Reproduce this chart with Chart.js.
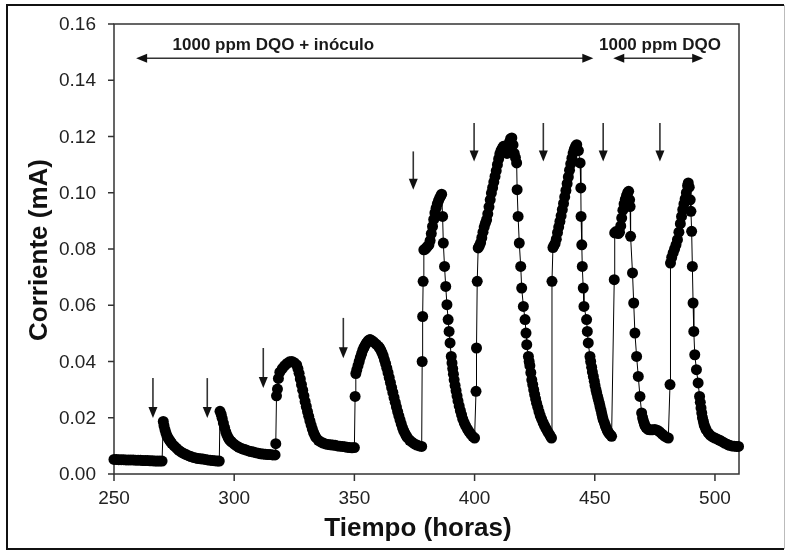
<!DOCTYPE html>
<html>
<head>
<meta charset="utf-8">
<script src="https://cdn.jsdelivr.net/npm/chart.js@4.4.0/dist/chart.umd.min.js"></script>
<style>
  body { margin: 0; background: #fff; }
  #wrap { width: 787px; height: 551px; }
</style>
</head>
<body>
<div id="wrap"><canvas id="grafico" width="787" height="551"></canvas></div>
<script>
// ciclos de corriente: [tiempo (horas), corriente (mA)]
const ciclo1 = [[250,0.0052],[251,0.0052],[252,0.0051],[253,0.0051],[254,0.0051],[255,0.0050],[256,0.0050],[257,0.0050],[258,0.0050],[259,0.0049],[260,0.0049],[261,0.0049],[262,0.0048],[263,0.0048],[264,0.0048],[265,0.0047],[266,0.0047],[267,0.0046],[268,0.0046],[269,0.0046],[270,0.0046]];
const ciclo2 = [[270.5,0.0187],[270.8,0.0172],[271.2,0.0158],[271.6,0.0146],[272,0.0136],[272.5,0.0128],[273,0.0121],[273.5,0.0115],[274,0.0109],[275,0.0100],[276,0.0092],[277,0.0084],[278,0.0078],[279,0.0073],[280,0.0069],[281,0.0065],[282,0.0062],[283,0.0059],[284,0.0057],[285,0.0055],[286,0.0054],[287,0.0053],[288,0.0052],[289,0.0050],[290,0.0049],[291,0.0048],[292,0.0047],[293,0.0046],[293.8,0.0046]];
const ciclo3 = [[294.1,0.0223],[294.6,0.0212],[295,0.0198],[295.5,0.0181],[296,0.0165],[296.5,0.0150],[297,0.0138],[297.5,0.0129],[298,0.0122],[298.5,0.0117],[299,0.0113],[300,0.0106],[301,0.0100],[302,0.0095],[303,0.0091],[304,0.0088],[305,0.0085],[306,0.0082],[307,0.0080],[308,0.0078],[309,0.0076],[310,0.0074],[311,0.0072],[312,0.0071],[313,0.0070],[314,0.0069],[315,0.0069],[316,0.0068],[317,0.0068]];
const ciclo4 = [[317.3,0.0108],[317.6,0.0278],[318,0.0302],[318.4,0.0340],[319,0.0362],[320,0.0375],[321,0.0385],[322,0.0393],[323,0.0399],[324,0.0400],[325,0.0396],[326,0.0388],[326.5,0.0375],[327,0.0358],[327.5,0.0338],[328,0.0318],[328.5,0.0298],[329,0.0278],[329.5,0.0258],[330,0.0240],[330.5,0.0222],[331,0.0205],[331.5,0.0189],[332,0.0174],[332.5,0.0160],[333,0.0148],[333.5,0.0138],[334,0.0130],[335,0.0120],[336,0.0114],[337,0.0110],[338,0.0107],[339,0.0105],[340,0.0104],[341,0.0103],[342,0.0102],[343,0.0100],[344,0.0099],[345,0.0098],[346,0.0097],[347,0.0095],[348,0.0094],[349,0.0093],[350,0.0094]];
const ciclo5 = [[350.3,0.0276],[350.6,0.0357],[351,0.0370],[351.5,0.0385],[352,0.0400],[352.5,0.0415],[353,0.0428],[353.5,0.0440],[354,0.0450],[354.5,0.0458],[355,0.0465],[355.5,0.0471],[356,0.0476],[356.5,0.0478],[357,0.0476],[358,0.0470],[359,0.0462],[360,0.0454],[360.5,0.0448],[361,0.0440],[361.5,0.0431],[362,0.0420],[362.5,0.0406],[363,0.0392],[363.5,0.0376],[364,0.0360],[364.5,0.0343],[365,0.0325],[365.5,0.0307],[366,0.0290],[366.5,0.0272],[367,0.0255],[367.5,0.0238],[368,0.0222],[368.5,0.0207],[369,0.0192],[369.5,0.0178],[370,0.0165],[370.5,0.0154],[371,0.0145],[371.5,0.0137],[372,0.0130],[373,0.0120],[374,0.0113],[375,0.0107],[376,0.0103],[377,0.0100],[378,0.0098]];
const ciclo6 = [[378.2,0.0400],[378.4,0.0560],[378.6,0.0685],[378.9,0.0797],[379.5,0.0800],[380,0.0805],[380.5,0.0810],[381,0.0815],[381.5,0.0830],[382,0.0855],[382.5,0.0880],[383,0.0905],[383.5,0.0928],[384,0.0945],[384.5,0.0960],[385,0.0972],[385.5,0.0982],[386,0.0990],[386.3,0.0995],[386.7,0.0916],[387,0.0821],[387.5,0.0738],[388,0.0667],[388.5,0.0602],[389,0.0549],[389.4,0.0507],[389.8,0.0466],[390.3,0.0418],[390.6,0.0395],[390.9,0.0375],[391.2,0.0355],[391.5,0.0335],[391.9,0.0315],[392.3,0.0296],[392.7,0.0278],[393.1,0.0260],[393.6,0.0242],[394.1,0.0225],[394.6,0.0210],[395.1,0.0195],[395.7,0.0182],[396.3,0.0171],[397,0.0160],[397.7,0.0151],[398.4,0.0142],[399.2,0.0134],[400,0.0128]];
const ciclo7 = [[400.6,0.0294],[400.8,0.0448],[401.1,0.0685],[401.5,0.0804],[402,0.0812],[402.5,0.0822],[403,0.0840],[403.5,0.0860],[404,0.0878],[404.5,0.0892],[405,0.0904],[405.5,0.0925],[406,0.0950],[406.5,0.0975],[407,0.0999],[407.5,0.1018],[408,0.1038],[408.5,0.1058],[409,0.1078],[409.5,0.1100],[410,0.1120],[410.5,0.1138],[411,0.1150],[411.5,0.1158],[412,0.1165],[412.5,0.1155],[413,0.1145],[413.5,0.1140],[414,0.1160],[414.5,0.1180],[415,0.1192],[415.5,0.1195],[416,0.1170],[416.5,0.1140],[417,0.1125],[417.5,0.1106],[417.7,0.1011],[418.1,0.0916],[418.6,0.0821],[419.2,0.0738],[419.6,0.0661],[420.3,0.0596],[421,0.0549],[421.4,0.0501],[421.7,0.0460],[422.4,0.0418],[422.7,0.0400],[423,0.0385],[423.4,0.0360],[423.8,0.0335],[424.2,0.0318],[424.6,0.0300],[425,0.0283],[425.4,0.0267],[425.8,0.0252],[426.3,0.0237],[426.8,0.0222],[427.3,0.0208],[427.9,0.0195],[428.5,0.0183],[429.1,0.0172],[429.7,0.0162],[430.3,0.0152],[431,0.0143],[431.5,0.0135],[432,0.0128]];
const ciclo8 = [[432.2,0.0685],[432.6,0.0805],[433,0.0812],[433.5,0.0820],[434,0.0835],[434.5,0.0858],[435,0.0878],[435.5,0.0898],[436,0.0918],[436.5,0.0940],[437,0.0962],[437.5,0.0985],[438,0.1008],[438.5,0.1032],[439,0.1056],[439.5,0.1080],[440,0.1103],[440.5,0.1123],[441,0.1141],[441.5,0.1155],[442,0.1165],[442.5,0.1171],[443.2,0.1150],[443.9,0.1106],[444.2,0.1017],[444.3,0.0916],[444.6,0.0815],[444.8,0.0738],[445.2,0.0661],[445.5,0.0596],[446.6,0.0549],[446.9,0.0507],[447.3,0.0466],[448,0.0418],[448.3,0.0400],[448.7,0.0380],[449,0.0363],[449.4,0.0347],[449.8,0.0330],[450.1,0.0315],[450.5,0.0300],[450.8,0.0288],[451.2,0.0275],[451.5,0.0264],[451.9,0.0252],[452.2,0.0240],[452.6,0.0227],[452.9,0.0215],[453.2,0.0204],[453.5,0.0193],[454,0.0182],[454.4,0.0172],[454.8,0.0163],[455.2,0.0155],[455.7,0.0148],[456.1,0.0143],[456.6,0.0138],[457,0.0134]];
const ciclo9 = [[458.1,0.0691],[458.3,0.0857],[458.8,0.0862],[459.3,0.0858],[459.8,0.0855],[460.3,0.0860],[460.8,0.0882],[461.2,0.0910],[461.7,0.0938],[462.2,0.0960],[462.7,0.0976],[463.2,0.0990],[463.7,0.1000],[464.1,0.1005],[464.5,0.0975],[464.7,0.0951],[464.9,0.0845],[465.7,0.0715],[466.2,0.0608],[466.7,0.0501],[467.4,0.0418],[468.1,0.0347],[468.8,0.0276],[469.5,0.0217],[469.9,0.0200],[470.2,0.0190],[470.6,0.0180],[470.9,0.0172],[471.3,0.0166],[471.6,0.0163],[472.3,0.0158],[473,0.0157],[474,0.0157],[475,0.0158],[476,0.0156],[477,0.0150],[478,0.0142],[479,0.0135],[480,0.0130],[480.6,0.0128]];
const ciclo10 = [[481.3,0.0318],[481.5,0.0750],[482,0.0770],[482.6,0.0786],[483.2,0.0800],[483.8,0.0815],[484.4,0.0833],[485,0.0860],[485.6,0.0890],[486.1,0.0916],[486.6,0.0940],[487.1,0.0960],[487.6,0.0978],[488.1,0.1000],[488.6,0.1025],[488.9,0.1035],[489.3,0.1020],[489.7,0.0975],[490,0.0934],[490.3,0.0863],[490.6,0.0738],[490.9,0.0608],[491.2,0.0507],[491.6,0.0424],[492.3,0.0371],[493,0.0324],[493.6,0.0276],[493.9,0.0255],[494.2,0.0235],[494.5,0.0217],[494.8,0.0200],[495.2,0.0187],[495.5,0.0175],[495.9,0.0166],[496.3,0.0158],[497.2,0.0146],[498,0.0138],[499,0.0132],[500,0.0128],[501,0.0124],[502,0.0120],[503,0.0115],[504,0.0110],[505,0.0106],[506,0.0102],[507,0.0100],[508,0.0099],[509,0.0098],[509.8,0.0098]];

const ticksX = [250, 300, 350, 400, 450, 500];
const ticksY = [0, 0.02, 0.04, 0.06, 0.08, 0.10, 0.12, 0.14, 0.16];

// flechas de alimentación (hora, inicio, punta en mA)
const alimentacionX = [266.2, 288.8, 312.1, 345.4, 374.5, 399.8, 428.6, 453.5, 477.1];
const alimentacionTop = [0.0341, 0.0341, 0.0448, 0.0555, 0.1147, 0.1248, 0.1248, 0.1248, 0.1248];
const alimentacionTip = [0.0199, 0.0199, 0.0306, 0.0412, 0.1011, 0.1111, 0.1111, 0.1111, 0.1111];

const etapas = ['1000 ppm DQO + inóculo', '1000 ppm DQO'];
const etapaDesde = [259.2, 457.7];
const etapaHasta = [449.4, 495.1];
const etapaCentro = [316.3, 477.1];

const puntos = [ciclo1, ciclo2, ciclo3, ciclo4, ciclo5, ciclo6, ciclo7, ciclo8, ciclo9, ciclo10]
	.flat().map(p => ({ x: p[0], y: p[1] }));

function flechaAbajo(ctx, px, y1, y2) {
	ctx.beginPath();
	ctx.moveTo(px, y1);
	ctx.lineTo(px, y2 - 8);
	ctx.stroke();
	ctx.beginPath();
	ctx.moveTo(px - 4.5, y2 - 11);
	ctx.lineTo(px + 4.5, y2 - 11);
	ctx.lineTo(px, y2);
	ctx.closePath();
	ctx.fill();
}

function flechaDoble(ctx, x1, x2, py) {
	ctx.beginPath();
	ctx.moveTo(x1 + 8, py);
	ctx.lineTo(x2 - 8, py);
	ctx.stroke();
	ctx.beginPath();
	ctx.moveTo(x1, py);
	ctx.lineTo(x1 + 11, py - 4.5);
	ctx.lineTo(x1 + 11, py + 4.5);
	ctx.closePath();
	ctx.fill();
	ctx.beginPath();
	ctx.moveTo(x2, py);
	ctx.lineTo(x2 - 11, py - 4.5);
	ctx.lineTo(x2 - 11, py + 4.5);
	ctx.closePath();
	ctx.fill();
}

const dibujo = {
	id: 'dibujo',
	beforeDatasetsDraw(chart) {
		const { ctx, chartArea: a, scales: { x, y } } = chart;
		ctx.save();

		// marco exterior
		ctx.strokeStyle = '#111';
		ctx.lineWidth = 2;
		ctx.beginPath();
		ctx.moveTo(784, 5); ctx.lineTo(7, 5); ctx.lineTo(7, 549); ctx.lineTo(784, 549);
		ctx.stroke();
		ctx.strokeStyle = '#bbb';
		ctx.lineWidth = 1;
		ctx.beginPath();
		ctx.moveTo(784.5, 5); ctx.lineTo(784.5, 549);
		ctx.stroke();

		// caja del gráfico y marcas
		ctx.strokeStyle = '#333';
		ctx.lineWidth = 1.5;
		ctx.strokeRect(a.left, a.top, a.right - a.left, a.bottom - a.top);
		ctx.beginPath();
		ticksX.forEach(v => {
			const px = x.getPixelForValue(v);
			ctx.moveTo(px, a.bottom);
			ctx.lineTo(px, a.bottom + 7);
		});
		ticksY.forEach(v => {
			const py = y.getPixelForValue(v);
			ctx.moveTo(a.left - 6, py);
			ctx.lineTo(a.left, py);
		});
		ctx.stroke();

		ctx.fillStyle = '#222';
		ctx.font = '19px "Liberation Sans", Arial, sans-serif';
		ctx.textAlign = 'center';
		ctx.textBaseline = 'middle';
		ticksX.forEach(v => ctx.fillText(String(v), x.getPixelForValue(v), a.bottom + 25));
		ctx.textAlign = 'right';
		ticksY.forEach(v => ctx.fillText(v.toFixed(2), a.left - 18, y.getPixelForValue(v) + 1));

		// títulos de ejes
		ctx.fillStyle = '#111';
		ctx.font = 'bold 26px "Liberation Sans", Arial, sans-serif';
		ctx.textAlign = 'center';
		ctx.textBaseline = 'alphabetic';
		ctx.fillText('Tiempo (horas)', 418, 536);
		ctx.translate(47, 250);
		ctx.rotate(-Math.PI / 2);
		ctx.fillText('Corriente (mA)', 0, 0);
		ctx.restore();
	},
	afterDatasetsDraw(chart) {
		const { ctx, scales: { x, y } } = chart;
		ctx.save();
		ctx.strokeStyle = '#333';
		ctx.fillStyle = '#111';
		ctx.lineWidth = 1.6;
		alimentacionX.forEach((h, i) => {
			flechaAbajo(ctx, x.getPixelForValue(h), y.getPixelForValue(alimentacionTop[i]), y.getPixelForValue(alimentacionTip[i]));
		});
		const py = y.getPixelForValue(0.1478);
		etapas.forEach((t, i) => {
			flechaDoble(ctx, x.getPixelForValue(etapaDesde[i]), x.getPixelForValue(etapaHasta[i]), py);
		});
		ctx.fillStyle = '#1a1a1a';
		ctx.font = 'bold 17px "Liberation Sans", Arial, sans-serif';
		ctx.textAlign = 'center';
		ctx.textBaseline = 'alphabetic';
		etapas.forEach((t, i) => ctx.fillText(t, x.getPixelForValue(etapaCentro[i]), 50));
		ctx.restore();
	}
};

new Chart(document.getElementById('grafico'), {
	type: 'scatter',
	data: {
		datasets: [{
			data: puntos,
			showLine: true,
			borderColor: '#000',
			borderWidth: 1,
			pointRadius: 5.5,
			pointHoverRadius: 5.5,
			pointBackgroundColor: '#000',
			pointBorderWidth: 0,
			clip: false
		}]
	},
	options: {
		responsive: false,
		animation: false,
		devicePixelRatio: 1,
		events: [],
		layout: { padding: { left: 114, right: 48, top: 24, bottom: 77 } },
		plugins: { legend: { display: false }, tooltip: { enabled: false } },
		scales: {
			x: { type: 'linear', min: 250, max: 510, display: false },
			y: { type: 'linear', min: 0, max: 0.16, display: false }
		}
	},
	plugins: [dibujo]
});
</script>
</body>
</html>
